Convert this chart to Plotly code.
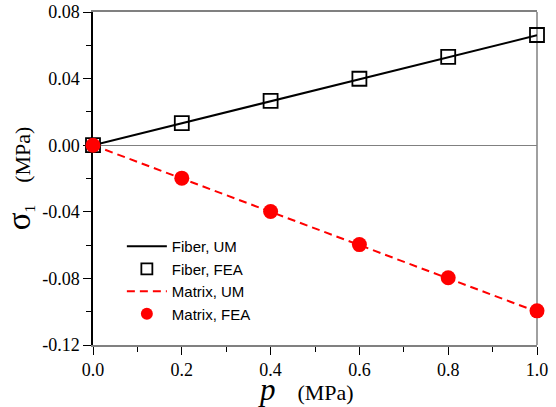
import plotly.graph_objects as go

p_um = [0.0, 1.0]
fiber_um = [0.0, 0.066]
matrix_um = [0.0, -0.1]

p_fea = [0.0, 0.2, 0.4, 0.6, 0.8, 1.0]
fiber_fea = [0.0, 0.0133, 0.0266, 0.0399, 0.0531, 0.0662]
matrix_fea = [0.0, -0.0198, -0.0398, -0.0597, -0.0796, -0.0995]

x_ticks = [0.0, 0.2, 0.4, 0.6, 0.8, 1.0]
x_ticktext = ["0.0", "0.2", "0.4", "0.6", "0.8", "1.0"]
y_ticks = [0.08, 0.04, 0.0, -0.04, -0.08, -0.12]
y_ticktext = ["0.08", "0.04", "0.00", "-0.04", "-0.08", "-0.12"]

fiber_marker = dict(symbol="square-open", color="black", line=dict(width=1.8, color="black"))
matrix_marker = dict(symbol="circle", color="red")

fig = go.Figure()
# legend entries (in legend order)
fig.add_trace(go.Scatter(x=p_um, y=fiber_um, mode="lines", name="Fiber, UM",
                         line=dict(color="black", width=2), cliponaxis=False))
fig.add_trace(go.Scatter(x=[None], y=[None], mode="markers", name="Fiber, FEA",
                         marker=dict(size=11, **fiber_marker)))
fig.add_trace(go.Scatter(x=p_um, y=matrix_um, mode="lines", name="Matrix, UM",
                         line=dict(color="red", width=2, dash="8px,5px"), cliponaxis=False))
fig.add_trace(go.Scatter(x=[None], y=[None], mode="markers", name="Matrix, FEA",
                         marker=dict(size=12, **matrix_marker)))
# data markers
fig.add_trace(go.Scatter(x=p_fea, y=fiber_fea, mode="markers", name="Fiber, FEA",
                         marker=dict(size=14, **fiber_marker), showlegend=False,
                         cliponaxis=False))
fig.add_trace(go.Scatter(x=p_fea, y=matrix_fea, mode="markers", name="Matrix, FEA",
                         marker=dict(size=15, **matrix_marker), showlegend=False,
                         cliponaxis=False))

serif = "Liberation Serif"

fig.update_layout(
    width=556, height=407,
    margin=dict(l=93, r=19, t=12, b=62, autoexpand=False),
    paper_bgcolor="white", plot_bgcolor="white",
    showlegend=True,
    legend=dict(x=0.065, y=0.345, xanchor="left", yanchor="top",
                font=dict(family="Liberation Sans", size=15, color="black"),
                bgcolor="rgba(0,0,0,0)", tracegroupgap=0, itemwidth=40),
    xaxis=dict(range=[0, 1], tickvals=x_ticks, ticktext=x_ticktext,
               automargin=False,
               showgrid=False, zeroline=False,
               showline=True, linecolor="#808080", linewidth=1.5, mirror=True,
               ticks="outside", ticklen=8, tickwidth=1.2, tickcolor="black",
               minor=dict(dtick=0.1, ticks="outside", ticklen=5, tickwidth=1.2, tickcolor="black"),
               tickfont=dict(family=serif, size=18, color="black"),
               layer="below traces",
               title=dict(text="<i><span style='font-size:31px'>p</span></i>&nbsp;&nbsp;&nbsp;&nbsp;(MPa)&nbsp;&nbsp;&nbsp;",
                          font=dict(family=serif, size=22, color="black"), standoff=4)),
    yaxis=dict(range=[-0.12, 0.08], tickvals=y_ticks, ticktext=y_ticktext,
               automargin=False,
               showgrid=False, zeroline=True, zerolinecolor="#808080", zerolinewidth=1.2,
               showline=True, linecolor="black", linewidth=1.5, mirror=False,
               ticks="outside", ticklen=8, tickwidth=1.2, tickcolor="black",
               minor=dict(dtick=0.02, ticks="outside", ticklen=5, tickwidth=1.2, tickcolor="black"),
               tickfont=dict(family=serif, size=18, color="black"),
               layer="below traces",
               title=dict(text="<span style='font-size:33px'>σ</span><sub>1</sub>&nbsp;&nbsp;&nbsp;&nbsp;(MPa)",
                          font=dict(family=serif, size=22, color="black"), standoff=5)),
)
fig.add_shape(type="line", xref="x domain", yref="y domain", x0=1, x1=1, y0=0, y1=1,
              line=dict(color="#808080", width=1.5), layer="below")

fig.write_html("out.html")
